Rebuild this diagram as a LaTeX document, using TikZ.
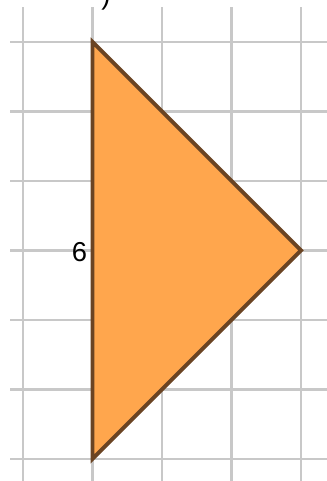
\documentclass[tikz,border=0pt]{standalone}
\usepackage{fontspec}
\setmainfont{Liberation Sans}
\usetikzlibrary{positioning}

\definecolor{gridgray}{HTML}{C8C8C8}
\definecolor{triorange}{HTML}{FFA64D}
\definecolor{tribrown}{HTML}{6B4423}

\begin{document}
\begin{tikzpicture}[
                    gridline/.style={draw=gridgray, line width=0.9pt},
                    tri/.style={draw=tribrown, fill=triorange, line width=1.6pt, line join=miter},
                    lbl/.style={font=\fontsize{11.2}{13}\selectfont, inner sep=0pt}
                ]
                    \clip (0,0) rectangle (4.705,6.921);
                    \useasboundingbox (0,0) rectangle (4.705,6.921);
                    % grid
                    \foreach \i in {0,...,4}
                        \draw[gridline] (0.331+\i,0) -- (0.331+\i,6.82);
                    \foreach \j in {0,...,6}
                        \draw[gridline] (0.144,0.317+\j) -- (4.705,0.317+\j);
                    % triangle
                    \coordinate (top) at (1.331,6.317);
                    \coordinate (tip) at (4.331,3.317);
                    \coordinate (bot) at (1.331,0.317);
                    \draw[tri] (top) -- (tip) -- (bot) -- cycle;
                    \node[lbl, anchor=east] (side) at (1.26,3.295) {6};
                    \node[lbl, anchor=base] (cut) at (1.525,6.857) {)};
                \end{tikzpicture}
\end{document}
